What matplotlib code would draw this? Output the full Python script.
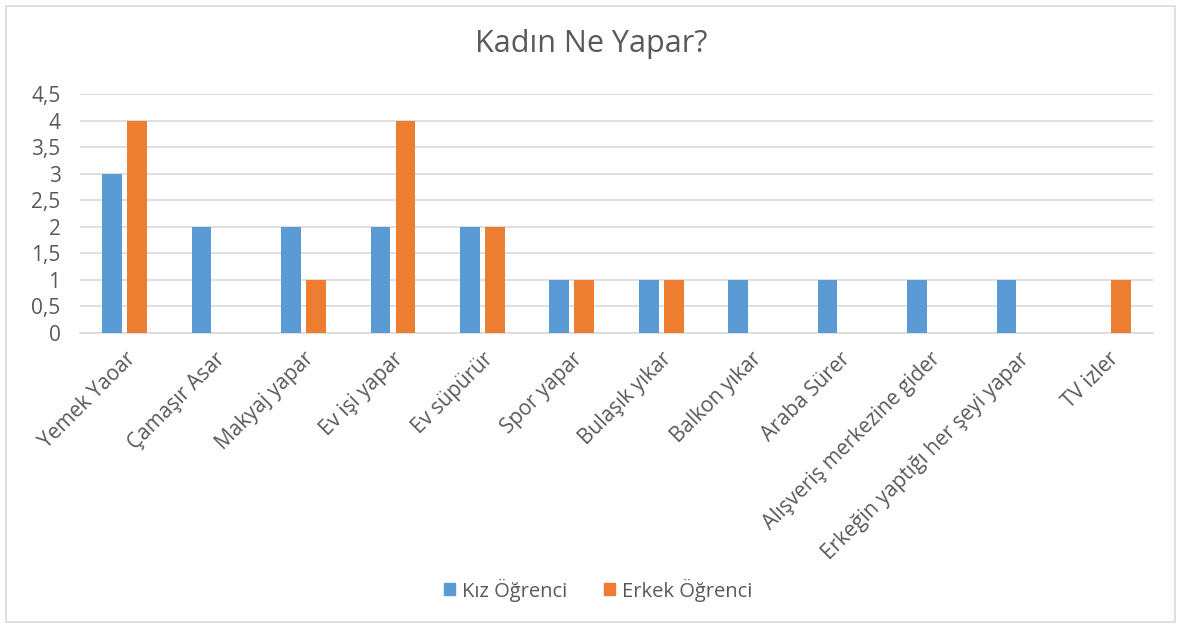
import numpy as np
import matplotlib.pyplot as plt
from matplotlib.patches import Rectangle, Patch

# veriler
kategoriler = ["Yemek Yaoar", "Çamaşır Asar", "Makyaj yapar", "Ev işi yapar", "Ev süpürür",
               "Spor yapar", "Bulaşık yıkar", "Balkon yıkar", "Araba Sürer",
               "Alışveriş merkezine gider", "Erkeğin yaptığı her şeyi yapar", "TV izler"]
kiz = [3, 2, 2, 2, 2, 1, 1, 1, 1, 1, 1, 0]
erkek = [4, 0, 1, 4, 2, 1, 1, 0, 0, 0, 0, 1]
y_ticks = [0, 0.5, 1, 1.5, 2, 2.5, 3, 3.5, 4, 4.5]
y_labels = ["0", "0,5", "1", "1,5", "2", "2,5", "3", "3,5", "4", "4,5"]

mavi = "#5b9bd5"
turuncu = "#ed7d31"
gri = "#595959"
cizgi = "#d9d9d9"

plt.rcParams['font.family'] = ['Open Sans', 'DejaVu Sans']

W, H = 1182, 626
fig = plt.figure(figsize=(W / 100, H / 100), dpi=100)

# dış çerçeve
fig.patches.append(Rectangle((6 / W, 4 / H), 1169 / W, 616 / H, transform=fig.transFigure,
                             fill=False, edgecolor=cizgi, linewidth=1.2))

ax = fig.add_axes([80 / W, (H - 333) / H, 1073 / W, (333 - 94) / H])

x = np.arange(len(kategoriler))
w = 0.22
ax.bar(x - 0.14, kiz, w, color=mavi, zorder=3)
ax.bar(x + 0.14, erkek, w, color=turuncu, zorder=3)

ax.set_xlim(-0.5, len(kategoriler) - 0.5)
ax.set_ylim(0, 4.5)
ax.set_yticks(y_ticks)
ax.set_yticklabels(y_labels, fontsize=15, color=gri)
ax.yaxis.grid(True, color=cizgi, linewidth=1.2, zorder=0)
ax.tick_params(axis='both', length=0)
ax.tick_params(axis='y', pad=14)
for s in ['top', 'right', 'left']:
    ax.spines[s].set_visible(False)
ax.spines['bottom'].set_color(cizgi)
ax.spines['bottom'].set_linewidth(1.2)

ax.set_xticks(x)
ax.set_xticklabels(kategoriler, rotation=45, ha='right', rotation_mode='anchor',
                   fontsize=15, color=gri)
ax.tick_params(axis='x', pad=11)

fig.text(591 / W, 1 - 44 / H, "Kadın Ne Yapar?", ha='center', va='center',
         fontsize=22, color=gri)

handles = [Patch(color=mavi), Patch(color=turuncu)]
fig.legend(handles, ["Kız Öğrenci", "Erkek Öğrenci"], loc='center',
           bbox_to_anchor=(598 / W, 1 - 590 / H), ncol=2, frameon=False,
           fontsize=14.5, labelcolor=gri, handlelength=0.55, handleheight=0.55,
           handletextpad=0.35, columnspacing=1.8)

fig.savefig("out.png", dpi=100)
